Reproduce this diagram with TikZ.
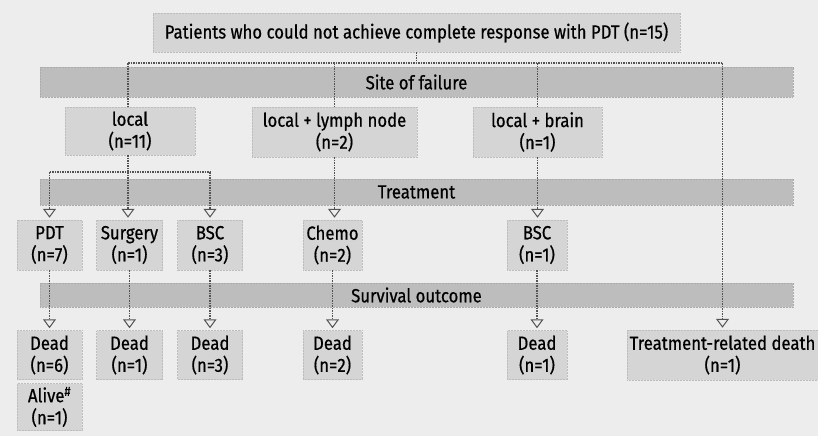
\documentclass[tikz,border=0pt]{standalone}
\usepackage{fontspec}
\setmainfont{Fira Sans}[FakeBold=0.6, FakeStretch=0.88]
\usetikzlibrary{arrows.meta}
\begin{document}
\begin{tikzpicture}[x=1pt,y=-1pt,
  box/.style={fill=gray!33, draw=gray!52, densely dotted, line width=0.5pt, inner sep=0pt, align=center, font=\fontsize{19}{22}\selectfont, text=black},
  bar/.style={fill=gray!52, draw=gray!66, densely dotted, line width=0.5pt, inner sep=0pt},
  bartext/.style={font=\fontsize{19}{22}\selectfont, text=black, inner sep=1pt},
  conn/.style={draw=gray!65!black, line width=1.4pt, dash pattern=on 1.5pt off 1pt},
  arr/.style={conn, -{Triangle[open, width=13pt, length=9pt, line width=1pt]}, shorten >=2pt}
]
\useasboundingbox (0,0) rectangle (818,436);
\fill[gray!14] (0,0) rectangle (818,436);

% bars
\node[bar, minimum width=753pt, minimum height=30pt] (sitebar) at (416.5,82) {};
\node[bartext] (site) at (sitebar.center) {Site of failure};
\node[bar, minimum width=753pt, minimum height=26pt] (treatbar) at (416.5,192) {};
\node[bartext] (treat) at (treatbar.center) {Treatment};
\node[bar, minimum width=753pt, minimum height=24pt] (survbar) at (416.5,295) {};
\node[bartext] (surv) at (survbar.center) {Survival outcome};

% top
\node[box, minimum width=527pt, minimum height=39pt] (top) at (416.5,32.5) {Patients who could not achieve complete response with PDT (n=15)};

% site of failure
\node[box, minimum width=130pt, minimum height=48pt] (local) at (130,131) {local\\(n=11)};
\node[box, minimum width=165pt, minimum height=50pt] (lymph) at (334.5,132) {local + lymph node\\(n=2)};
\node[box, minimum width=129pt, minimum height=50pt] (brain) at (537.5,132) {local + brain\\(n=1)};

% treatment
\node[box, minimum width=65pt, minimum height=50pt] (pdt) at (49.5,245) {PDT\\(n=7)};
\node[box, minimum width=66pt, minimum height=50pt] (surg) at (129.5,245) {Surgery\\(n=1)};
\node[box, minimum width=65pt, minimum height=50pt] (bsca) at (210,245) {BSC\\(n=3)};
\node[box, minimum width=59pt, minimum height=50pt] (chemo) at (332.5,245) {Chemo\\(n=2)};
\node[box, minimum width=60pt, minimum height=50pt] (bscb) at (537,245) {BSC\\(n=1)};

% outcome
\node[box, minimum width=65pt, minimum height=49pt] (dead6) at (49.5,355) {Dead\\(n=6)};
\node[box, minimum width=65pt, minimum height=47pt] (alive) at (49.5,407) {Alive\textsuperscript{\#}\\(n=1)};
\node[box, minimum width=66pt, minimum height=49pt] (deada) at (129.5,355) {Dead\\(n=1)};
\node[box, minimum width=65pt, minimum height=49pt] (dead3) at (210,355) {Dead\\(n=3)};
\node[box, minimum width=59pt, minimum height=49pt] (dead2) at (332.5,355) {Dead\\(n=2)};
\node[box, minimum width=60pt, minimum height=49pt] (deadb) at (537,355) {Dead\\(n=1)};
\node[box, minimum width=191pt, minimum height=50pt] (trd) at (722.5,355) {Treatment-related death\\(n=1)};

% connectors: level 1
\coordinate (h1l) at (128,63);
\coordinate (h1r) at (722.5,63);
\draw[conn] (top.south) -- (top.south |- h1l);
\draw[conn] (h1l) -- (h1r);
\draw[conn] (h1l) -- (local.north -| h1l);
\draw[conn] (lymph.north |- h1l) -- (lymph.north);
\draw[conn] (brain.north |- h1l) -- (brain.north);
\draw[arr] (h1r) -- (trd.north);

% level 2
\coordinate (h2l) at (pdt.north |- 0,172);
\coordinate (h2r) at (bsca.north |- 0,172);
\draw[conn] (local.south -| 128,0) -- (128,172);
\draw[conn] (h2l) -- (h2r);
\draw[arr] (h2l) -- (pdt.north);
\draw[arr] (128,172) -- (surg.north -| 128,0);
\draw[arr] (h2r) -- (bsca.north);
\draw[arr] (lymph.south) -- (chemo.north -| lymph.south);
\draw[arr] (brain.south) -- (bscb.north -| brain.south);

% level 3
\draw[arr] (pdt.south) -- (dead6.north);
\draw[arr] (surg.south) -- (deada.north);
\draw[arr] (bsca.south) -- (dead3.north);
\draw[arr] (chemo.south) -- (dead2.north);
\draw[arr] (bscb.south) -- (deadb.north);
\end{tikzpicture}
\end{document}
